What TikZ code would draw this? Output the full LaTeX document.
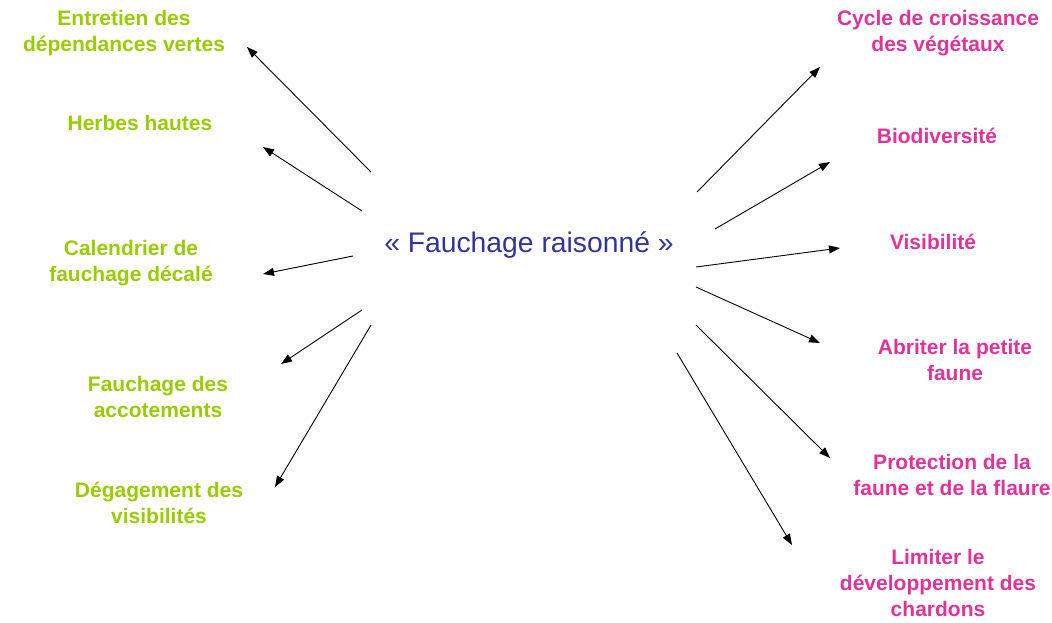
\documentclass[tikz,border=0pt]{standalone}
\usepackage{fontspec}
\setmainfont{Liberation Sans}
\usetikzlibrary{arrows.meta}
\definecolor{lgreen}{HTML}{99CC00}
\definecolor{lpink}{HTML}{E03399}
\definecolor{lblue}{HTML}{333399}
\begin{document}
\begin{tikzpicture}[x=1pt,y=-1pt,
  lbl/.style={inner sep=0pt,align=center,font=\fontsize{21}{26}\selectfont\bfseries},
  gl/.style={lbl,text=lgreen},
  pl/.style={lbl,text=lpink},
  conn/.style={line width=0.9pt,-{Triangle[length=11pt,width=8pt]}}]
\useasboundingbox (0,0) rectangle (1052,622);
\node[inner sep=0pt,text=lblue,font=\fontsize{28.3}{32}\selectfont] (c) at (529,245) {« Fauchage raisonné »};
% left labels
\node[gl] (l1) at (124,33) {Entretien des\\dépendances vertes};
\node[gl] (l2) at (140,123) {Herbes hautes};
\node[gl] (l3) at (131,263) {Calendrier de\\fauchage décalé};
\node[gl] (l4) at (158,397) {Fauchage des\\accotements};
\node[gl] (l5) at (159,503) {Dégagement des\\visibilités};
% right labels
\node[pl] (r1) at (938,33) {Cycle de croissance\\des végétaux};
\node[pl] (r2) at (937,136) {Biodiversité};
\node[pl] (r3) at (933,242) {Visibilité};
\node[pl] (r4) at (955,360) {Abriter la petite\\faune};
\node[pl] (r5) at (952,475) {Protection de la\\faune et de la flaure};
\node[pl] (r6) at (938,583) {Limiter le\\développement des\\chardons};
% connector ends
\coordinate (s1) at (371,172); \coordinate (e1) at (247,47);
\coordinate (s2) at (362,211); \coordinate (e2) at (263,147);
\coordinate (s3) at (353,256); \coordinate (e3) at (263,274);
\coordinate (s4) at (362,310); \coordinate (e4) at (281,364);
\coordinate (s5) at (371,325); \coordinate (e5) at (275,487);
\coordinate (t1) at (697,192); \coordinate (f1) at (820,67);
\coordinate (t2) at (715,229); \coordinate (f2) at (830,162);
\coordinate (t3) at (696,267); \coordinate (f3) at (840,248);
\coordinate (t4) at (696,287); \coordinate (f4) at (820,343);
\coordinate (t5) at (696,325); \coordinate (f5) at (830,458);
\coordinate (t6) at (677,353); \coordinate (f6) at (792,545);
\foreach \i in {1,...,5} {\draw[conn] (s\i) -- (e\i);}
\foreach \i in {1,...,6} {\draw[conn] (t\i) -- (f\i);}
\end{tikzpicture}
\end{document}
